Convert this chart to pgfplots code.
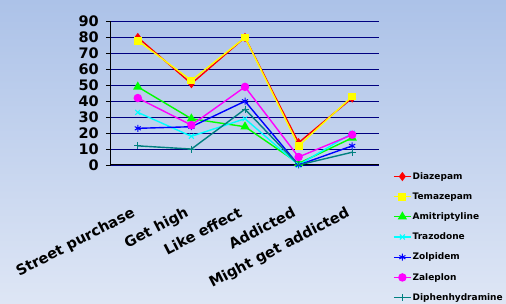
\documentclass[border=0pt]{standalone}
\usepackage{pgfplots}
\pgfplotsset{compat=1.18}
\usepackage{fontspec}
\setmainfont{DejaVu Sans}
\definecolor{bgtop}{RGB}{172,194,232}
\definecolor{bgbot}{RGB}{222,230,245}
\definecolor{gridnavy}{RGB}{0,0,128}
\definecolor{tealc}{RGB}{0,128,128}
\definecolor{cred}{RGB}{255,0,0}
\definecolor{cyel}{RGB}{255,255,0}
\definecolor{cgreen}{RGB}{0,255,0}
\definecolor{ccyan}{RGB}{0,255,255}
\definecolor{cblue}{RGB}{0,0,255}
\definecolor{cmag}{RGB}{255,0,255}
\begin{document}
\begin{tikzpicture}[x=1pt,y=1pt]
\shade[top color=bgtop,bottom color=bgbot] (0,0) rectangle (506,304);
\useasboundingbox (0,0) rectangle (506,304);
\begin{axis}[
  at={(111pt,139pt)}, anchor=south west,
  scale only axis, width=268pt, height=143.5pt,
  xmin=-0.5, xmax=4.5, ymin=0, ymax=90,
  axis x line=bottom, axis y line=left,
  axis line style={-, black, line width=1pt},
  xtick={0,1,2,3,4},
  xticklabels={Street purchase, Get high, Like effect, Addicted, Might get addicted},
  major x tick style={draw=none},
  extra x ticks={-0.5,0.5,1.5,2.5,3.5,4.5},
  extra x tick labels={},
  extra x tick style={major tick length=6pt, tick align=outside, tick style={black, line width=0.8pt}, grid=none},
  ytick={0,10,...,90},
  tick align=outside,
  major tick length=5pt,
  y tick style={black, line width=0.8pt},
  ymajorgrids, grid style={gridnavy, line width=0.9pt},
  xticklabel style={font=\bfseries\fontsize{14.5}{15}\selectfont, xshift=-7pt, yshift=-3pt, rotate=27.5, anchor=north east, inner sep=0pt},
  xticklabel shift=33pt,
  yticklabel style={font=\bfseries\fontsize{14.5}{15}\selectfont, inner sep=0pt, xshift=-7pt},
  /pgf/number format/assume math mode=true,
  clip=false,
  every axis plot/.append style={line width=1.4pt, mark size=3.5pt, mark options={solid}},
  legend style={at={(1.052,-0.043)}, anchor=north west, draw=none, fill=none,
    font=\bfseries\fontsize{9}{10}\selectfont, row sep=9.9pt, inner sep=0pt,
    nodes={inner sep=1pt}},
  legend cell align=left,
]
\addplot[color=cred, mark=diamond*] coordinates {(0,80) (1,51) (2,80) (3,14) (4,42)};
\addlegendentry{Diazepam}
\addplot[color=cyel, mark=square*, mark size=3.2pt] coordinates {(0,78) (1,53) (2,80) (3,12) (4,43)};
\addlegendentry{Temazepam}
\addplot[color=cgreen, mark=triangle*, mark size=4pt] coordinates {(0,49) (1,29) (2,24) (3,1) (4,17)};
\addlegendentry{Amitriptyline}
\addplot[color=ccyan, mark=x, mark options={line width=1pt}] coordinates {(0,33) (1,18) (2,29) (3,0) (4,20)};
\addlegendentry{Trazodone}
\addplot[color=cblue, mark=asterisk, mark options={line width=1pt}] coordinates {(0,23) (1,24) (2,40) (3,0) (4,12)};
\addlegendentry{Zolpidem}
\addplot[color=cmag, mark=*] coordinates {(0,42) (1,25) (2,49) (3,5) (4,19)};
\addlegendentry{Zaleplon}
\addplot[color=tealc, mark=+, mark options={line width=1pt}] coordinates {(0,12) (1,10) (2,35) (3,0) (4,8)};
\addlegendentry{Diphenhydramine}
\end{axis}
\end{tikzpicture}
\end{document}
